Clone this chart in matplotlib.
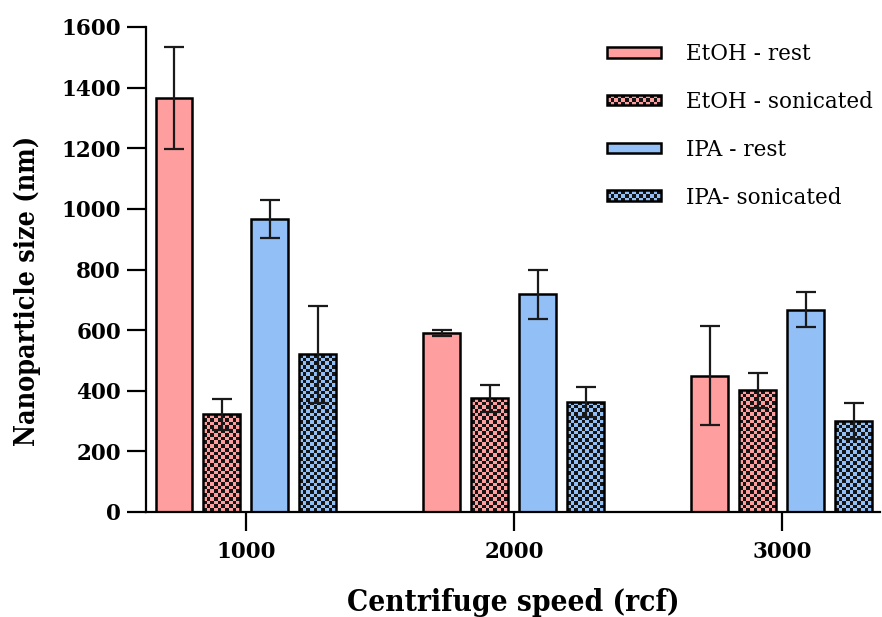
import numpy as np
import matplotlib
matplotlib.use("Agg")
import matplotlib.pyplot as plt
from matplotlib.patches import Rectangle
from matplotlib.legend_handler import HandlerBase

# data
speeds = ["1000", "2000", "3000"]
series_labels = ["EtOH - rest", "EtOH - sonicated", "IPA - rest", "IPA- sonicated"]
etoh_rest = [1366, 592, 450]
etoh_rest_err = [169, 10, 162]
etoh_sonicated = [322, 375, 401]
etoh_sonicated_err = [50, 44, 58]
ipa_rest = [967, 718, 667]
ipa_rest_err = [63, 80, 58]
ipa_sonicated = [521, 363, 300]
ipa_sonicated_err = [160, 48, 60]

PINK = "#ff9e9e"
BLUE = "#91bff6"
DARK = "#151515"
SQUARE_PX = 3.7  # checker square size in pixels

plt.rcParams["font.family"] = "DejaVu Serif"


def checker_image(nrows, ncols):
    img = np.zeros((nrows, ncols, 4))
    ii, jj = np.indices((nrows, ncols))
    mask = (ii + jj) % 2 == 0
    img[mask] = matplotlib.colors.to_rgba(DARK)
    return img


class CheckerHandler(HandlerBase):
    def __init__(self, checkered):
        super().__init__()
        self.checkered = checkered

    def create_artists(self, legend, orig_handle, xdescent, ydescent,
                       width, height, fontsize, trans):
        x0, y0 = -xdescent, -ydescent
        arts = [Rectangle((x0, y0), width, height,
                          facecolor=orig_handle.get_facecolor(),
                          edgecolor="none", transform=trans)]
        if self.checkered:
            sq = SQUARE_PX * 72 / 100
            nc = int(round(width / sq))
            nr = max(1, int(round(height / sq)))
            w, h = width / nc, height / nr
            for r in range(nr):
                for c in range(nc):
                    if (r + c) % 2 == 0:
                        arts.append(Rectangle((x0 + c * w, y0 + r * h), w, h,
                                              facecolor=DARK, edgecolor="none",
                                              transform=trans))
        arts.append(Rectangle((x0, y0), width, height, fill=False,
                              edgecolor="black", lw=1.8, transform=trans))
        return arts


fig = plt.figure(figsize=(8.82, 6.17), dpi=100)
ax = fig.add_axes([146 / 882, 1 - 512 / 617, 734 / 882, 485 / 617])

x = np.arange(len(speeds))
ax.set_xlim(-0.373, 2.366)
ax.set_ylim(0, 1600)

series = [
    (etoh_rest, etoh_rest_err, PINK, False),
    (etoh_sonicated, etoh_sonicated_err, PINK, True),
    (ipa_rest, ipa_rest_err, BLUE, False),
    (ipa_sonicated, ipa_sonicated_err, BLUE, True),
]
width = 0.138
step = 0.179
offsets = (np.arange(4) - 1.5) * step

# pixels per data unit, for the checker texture
px_x = ax.transData.transform((1, 0))[0] - ax.transData.transform((0, 0))[0]
px_y = ax.transData.transform((0, 1))[1] - ax.transData.transform((0, 0))[1]

handles = []
for (vals, errs, color, checkered), off, label in zip(series, offsets, series_labels):
    bars = ax.bar(x + off, vals, width, color=color, edgecolor="none", zorder=2)
    if checkered:
        for b in bars:
            bx, by = b.get_x(), b.get_y()
            bw, bh = b.get_width(), b.get_height()
            ncols = max(1, int(round(bw * px_x / SQUARE_PX)))
            nrows = max(1, int(round(bh * px_y / SQUARE_PX)))
            im = ax.imshow(checker_image(nrows, ncols), extent=(bx, bx + bw, by, by + bh),
                           origin="lower", interpolation="nearest", aspect="auto", zorder=2.5)
            im.set_clip_path(b)
    ax.bar(x + off, vals, width, fill=False, edgecolor="black", linewidth=1.8, zorder=3)
    ax.errorbar(x + off, vals, yerr=errs, fmt="none", ecolor="#1a1a1a",
                elinewidth=1.6, capsize=7, capthick=1.6, zorder=4)
    h = Rectangle((0, 0), 1, 1, facecolor=color)
    handles.append((h, checkered))

ax.set_xlim(-0.373, 2.366)
ax.set_ylim(0, 1600)
ax.set_xticks(x)
ax.set_xticklabels(speeds)
ax.set_yticks(np.arange(0, 1601, 200))

for side in ["top", "right"]:
    ax.spines[side].set_visible(False)
for side in ["left", "bottom"]:
    ax.spines[side].set_linewidth(1.6)
ax.tick_params(axis="both", length=14, width=1.6, labelsize=15.5)
ax.tick_params(axis="x", pad=7)
ax.tick_params(axis="y", pad=4)
for lab in ax.get_xticklabels() + ax.get_yticklabels():
    lab.set_fontweight("bold")

ax.set_ylabel("Nanoparticle size (nm)", fontsize=19.3, fontweight="bold",
              fontstretch="condensed", va="center")
ax.yaxis.set_label_coords(-0.162, 0.456)
ax.set_xlabel("Centrifuge speed (rcf)", fontsize=21.3, fontweight="bold",
              fontstretch="condensed", va="center")
ax.xaxis.set_label_coords(0.5, -0.186)

leg = ax.legend(
    [h for h, _ in handles], series_labels,
    handler_map={h: CheckerHandler(c) for h, c in handles},
    loc="upper left", bbox_to_anchor=(607 / 882, 1 - 43 / 617),
    bbox_transform=fig.transFigure, frameon=False, fontsize=15.5,
    handlelength=2.5, handleheight=0.38, handletextpad=1.18,
    labelspacing=1.2, borderpad=0, borderaxespad=0,
)

fig.savefig("out.png", dpi=100)
